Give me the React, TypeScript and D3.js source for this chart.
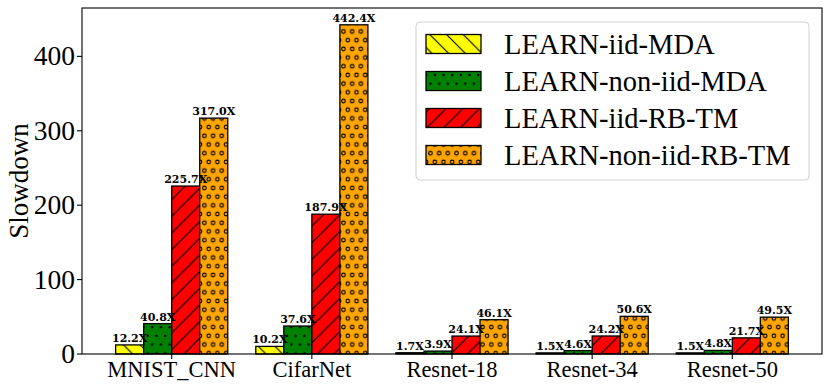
import React from "react";
import * as d3 from "d3";

const categories = ["MNIST_CNN", "CifarNet", "Resnet-18", "Resnet-34", "Resnet-50"];
const seriesNames = ["LEARN-iid-MDA", "LEARN-non-iid-MDA", "LEARN-iid-RB-TM", "LEARN-non-iid-RB-TM"];
const iidMDA = [12.2, 10.2, 1.7, 1.5, 1.5];
const nonIidMDA = [40.8, 37.6, 3.9, 4.6, 4.8];
const iidRBTM = [225.7, 187.9, 24.1, 24.2, 21.7];
const nonIidRBTM = [317.0, 442.4, 46.1, 50.6, 49.5];
const yTicks = [0, 100, 200, 300, 400];
const yLabel = "Slowdown";

const seriesValues = [iidMDA, nonIidMDA, iidRBTM, nonIidRBTM];
const seriesColors = ["#ffff00", "#008000", "#ff0000", "#ffa500"];
const seriesHatch = ["hBack", "hDots", "hFwd", "hCirc"];

const W = 830;
const H = 388;
const M = { left: 82, right: 822, top: 8, bottom: 354 };
const SERIF = "'Liberation Serif', 'Times New Roman', serif";
const BOLD = "'DejaVu Serif', serif";

export default function App() {
  const x = d3.scaleLinear().domain([-0.64, 4.64]).range([M.left, M.right]);
  const y = d3.scaleLinear().domain([0, 465]).range([M.bottom, M.top]);
  const bw = x(0.2) - x(0);
  const s = 100 / 11.5; // hatch spacing for dots/circles
  const L = 100 / 6; // diagonal spacing
  const hw = 1.2;

  const bars: any[] = [];
  const labels: any[] = [];
  seriesValues.forEach((vals, j) => {
    vals.forEach((v, i) => {
      const cx = x(i + (j - 1.5) * 0.2);
      const x0 = cx - bw / 2;
      const yt = y(v);
      const h = y(0) - yt;
      bars.push(
        <g key={`b${j}-${i}`}>
          <rect x={x0} y={yt} width={bw} height={h} fill={seriesColors[j]} />
          <rect x={x0} y={yt} width={bw} height={h} fill={`url(#${seriesHatch[j]})`} />
          <rect x={x0} y={yt} width={bw} height={h} fill="none" stroke="#000" strokeWidth={1.3} />
        </g>
      );
      labels.push(
        <text key={`l${j}-${i}`} x={cx} y={yt - 3} textAnchor="middle" fontFamily={BOLD} fontWeight="bold" fontSize={11}>
          {v.toFixed(1) + "X"}
        </text>
      );
    });
  });

  const lg = { x: 416, y: 22, w: 393, h: 158 };
  const rowY = [44, 81, 118, 155];

  return (
    <svg width={W} height={H} style={{ position: "fixed", left: 0, top: 0, background: "#fff" }}>
      <defs>
        <pattern id="hBack" patternUnits="userSpaceOnUse" width={L} height={L} x={0} y={H}>
          <path d={`M-2,-2 L${L + 2},${L + 2} M${L - 2},-2 L${L + 2},2 M-2,${L - 2} L2,${L + 2}`} stroke="#000" strokeWidth={hw} />
        </pattern>
        <pattern id="hFwd" patternUnits="userSpaceOnUse" width={L} height={L} x={0} y={H}>
          <path d={`M-2,${L + 2} L${L + 2},-2 M-2,2 L2,-2 M${L - 2},${L + 2} L${L + 2},${L - 2}`} stroke="#000" strokeWidth={hw} />
        </pattern>
        <pattern id="hCirc" patternUnits="userSpaceOnUse" width={s} height={2 * s} x={0} y={H}>
          {[[0, 0], [s, 0], [0, 2 * s], [s, 2 * s], [s / 2, s]].map(([cx, cy], k) => (
            <circle key={k} cx={cx} cy={cy} r={1.8} fill="none" stroke="#000" strokeWidth={1.1} />
          ))}
        </pattern>
        <pattern id="hDots" patternUnits="userSpaceOnUse" width={s} height={2 * s} x={0} y={H}>
          {[[0, 0], [s, 0], [0, 2 * s], [s, 2 * s], [s / 2, s]].map(([cx, cy], k) => (
            <circle key={k} cx={cx} cy={cy} r={1.2} fill="#000" />
          ))}
        </pattern>
      </defs>

      {bars}
      {labels}

      {/* axes frame */}
      <rect x={M.left} y={M.top} width={M.right - M.left} height={M.bottom - M.top} fill="none" stroke="#000" strokeWidth={1.1} />

      {/* y ticks */}
      {yTicks.map((t) => (
        <g key={`yt${t}`}>
          <line x1={M.left - 5} x2={M.left} y1={y(t)} y2={y(t)} stroke="#000" strokeWidth={1.1} />
          <text x={M.left - 7} y={y(t) + 9} textAnchor="end" fontFamily={SERIF} fontSize={27.5}>
            {t}
          </text>
        </g>
      ))}

      {/* x ticks */}
      {categories.map((c, i) => (
        <g key={`xt${i}`}>
          <line x1={x(i)} x2={x(i)} y1={M.bottom} y2={M.bottom + 5} stroke="#000" strokeWidth={1.1} />
          <text x={x(i)} y={377} textAnchor="middle" fontFamily={SERIF} fontSize={22.5}>
            {c}
          </text>
        </g>
      ))}

      <text
        transform={`translate(28,${(M.top + M.bottom) / 2}) rotate(-90)`}
        textAnchor="middle"
        fontFamily={SERIF}
        fontSize={27}
      >
        {yLabel}
      </text>

      {/* legend */}
      <rect x={lg.x} y={lg.y} width={lg.w} height={lg.h} rx={4} fill="#fff" fillOpacity={0.8} stroke="#d0d0d0" strokeWidth={1} />
      {seriesNames.map((n, j) => (
        <g key={`lg${j}`}>
          <rect x={426} y={rowY[j] - 9.5} width={55} height={19} fill={seriesColors[j]} />
          <rect x={426} y={rowY[j] - 9.5} width={55} height={19} fill={`url(#${seriesHatch[j]})`} />
          <rect x={426} y={rowY[j] - 9.5} width={55} height={19} fill="none" stroke="#000" strokeWidth={1.3} />
          <text x={504} y={rowY[j] + 9.5} fontFamily={SERIF} fontSize={28.5}>
            {n}
          </text>
        </g>
      ))}
    </svg>
  );
}
